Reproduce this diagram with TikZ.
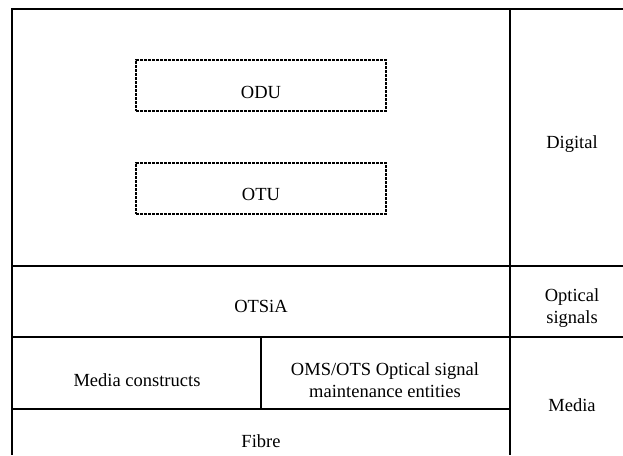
\documentclass[tikz,border=0pt]{standalone}
\usepackage{fontspec}
\setmainfont{Liberation Serif}
\usetikzlibrary{positioning}

\begin{document}
\begin{tikzpicture}[
  x=1pt, y=-1pt,
  grid line/.style={line width=1.1pt},
  layer box/.style={draw, dash pattern=on 3pt off 1pt, line width=1.5pt, minimum width=250pt, minimum height=51pt, inner sep=0pt},
  cell text/.style={font=\fontsize{18.5}{22}\selectfont, align=center}
]
\useasboundingbox (0,0) rectangle (623,455);
% table lines
\draw[grid line] (623,9) -- (12,9) -- (12,455);
\draw[grid line] (510,9) -- (510,455);
\draw[grid line] (12,266) -- (623,266);
\draw[grid line] (12,337) -- (623,337);
\draw[grid line] (12,409) -- (510,409);
\draw[grid line] (261,337) -- (261,409);
% digital layers
\node [layer box] (odu) at (261,85.5) {};
\node [cell text] (odutext) at ([yshift=-7pt]odu.center) {ODU};
\node [layer box] (otu) at (261,188.5) {};
\node [cell text] (otutext) at ([yshift=-6pt]otu.center) {OTU};
\node [cell text] (digital) at (572,144) {Digital};
% optical signals
\node [cell text] (otsia) at (261,306) {OTSiA};
\node [cell text] (optical) at (572,308) {Optical\\signals};
% media
\node [cell text] (constructs) at (137,380) {Media constructs};
\node [cell text] (omsots) at (385,380) {OMS/OTS Optical signal\\maintenance entities};
\node [cell text] (fibre) at (261,441) {Fibre};
\node [cell text] (media) at (572,405) {Media};
\end{tikzpicture}
\end{document}
